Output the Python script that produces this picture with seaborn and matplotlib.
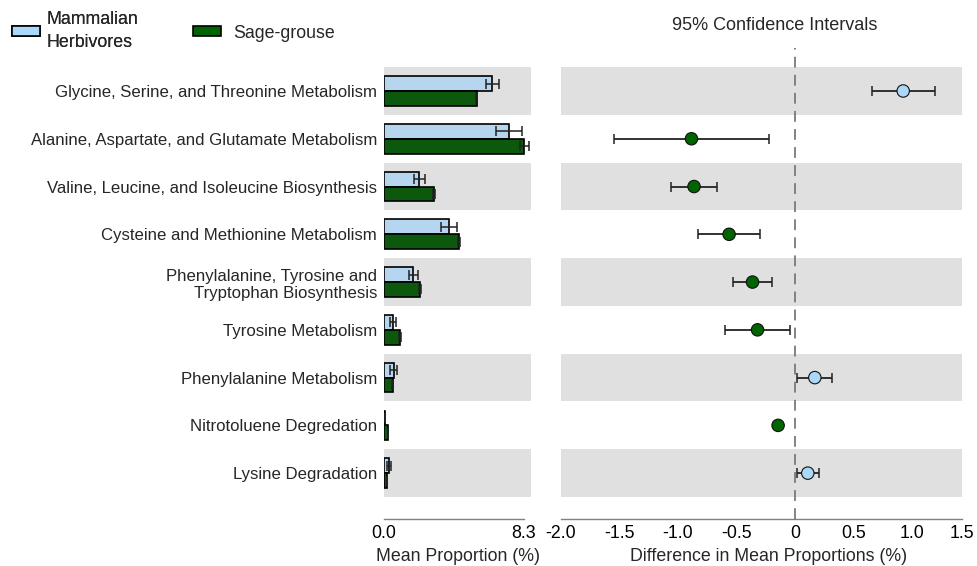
import numpy as np
import pandas as pd
import matplotlib
matplotlib.use("Agg")
import matplotlib.pyplot as plt
import seaborn as sns
from matplotlib.patches import Patch

# ---------------- data ----------------
pathways = [
    "Glycine, Serine, and Threonine Metabolism",
    "Alanine, Aspartate, and Glutamate Metabolism",
    "Valine, Leucine, and Isoleucine Biosynthesis",
    "Cysteine and Methionine Metabolism",
    "Phenylalanine, Tyrosine and\nTryptophan Biosynthesis",
    "Tyrosine Metabolism",
    "Phenylalanine Metabolism",
    "Nitrotoluene Degredation",
    "Lysine Degradation",
]
groups = ["Mammalian\nHerbivores", "Sage-grouse"]

herb_mean = [6.42, 7.43, 2.09, 3.83, 1.74, 0.52, 0.57, 0.04, 0.30]
herb_err = [0.38, 0.77, 0.34, 0.48, 0.27, 0.19, 0.22, 0.0, 0.13]
grouse_mean = [5.49, 8.32, 2.96, 4.43, 2.13, 0.93, 0.53, 0.24, 0.18]
grouse_err = [0.05, 0.28, 0.05, 0.05, 0.04, 0.06, 0.03, 0.02, 0.02]

diff = [0.927, -0.884, -0.862, -0.562, -0.362, -0.319, 0.171, -0.143, 0.111]
ci_low = [0.662, -1.547, -1.062, -0.824, -0.525, -0.597, 0.020, -0.143, 0.020]
ci_high = [1.199, -0.225, -0.665, -0.297, -0.194, -0.040, 0.317, -0.143, 0.208]

left_ticks = [0.0, 8.3]
left_ticklabels = ["0.0", "8.3"]
right_xmin, right_xmax = -2.0, 1.43
right_ticks = [-2.0, -1.5, -1.0, -0.5, 0.0, 0.5, 1.0, right_xmax]
right_ticklabels = ["-2.0", "-1.5", "-1.0", "-0.5", "0", "0.5", "1.0", "1.5"]

blue = "#ABD8F8"
green = "#006400"
band = "#E0E0E0"
spine_c = "#808080"

# ---------------- figure ----------------
sns.set_style("white")
plt.rcParams["font.family"] = ["Liberation Sans", "DejaVu Sans"]
plt.rcParams["font.size"] = 12

fig = plt.figure(figsize=(9.77, 5.66), dpi=100)
ax1 = fig.add_axes([384 / 977, 1 - 519 / 566, 147 / 977, 471 / 566])
ax2 = fig.add_axes([561 / 977, 1 - 519 / 566, 401 / 977, 471 / 566])

n = len(pathways)
rows = np.arange(n)

for ax in (ax1, ax2):
    for i in range(0, n, 2):
        ax.axhspan(i - 0.5, i + 0.5, color=band, lw=0, zorder=0)

# left: bar chart
df = pd.DataFrame({
    "pathway": pathways * 2,
    "group": [groups[0]] * n + [groups[1]] * n,
    "value": herb_mean + grouse_mean,
})
bw = 0.62
sns.barplot(data=df, y="pathway", x="value", hue="group", order=pathways,
            hue_order=groups, palette=[blue, green], width=bw, orient="h",
            edgecolor="black", linewidth=1.2, errorbar=None, legend=False,
            ax=ax1, zorder=2)
off = bw / 4
ax1.errorbar(herb_mean, rows - off, xerr=herb_err, fmt="none", ecolor="#222222",
             elinewidth=1.1, capsize=3.5, capthick=1.1, zorder=3)
ax1.errorbar(grouse_mean, rows + off, xerr=grouse_err, fmt="none", ecolor="#222222",
             elinewidth=1.1, capsize=3.5, capthick=1.1, zorder=3)

ax1.set_xlim(0, left_ticks[-1] * 147 / 140)
ax1.set_ylim(8.96, -0.9)
ax1.set_xticks(left_ticks)
ax1.set_xticklabels(left_ticklabels)
ax1.set_yticks(rows)
ax1.set_yticklabels(pathways, fontsize=12.1)
ax1.set_ylabel("")
ax1.set_xlabel("Mean Proportion (%)", fontsize=12.8, labelpad=4.5)

# right: CI plot
lo_err = np.array(diff) - np.array(ci_low)
hi_err = np.array(ci_high) - np.array(diff)
ax2.axvline(0, color="#7a7a7a", ls=(0, (6, 4)), lw=1.3, zorder=1)
ax2.errorbar(diff, rows, xerr=[lo_err, hi_err], fmt="none", ecolor="#222222",
             elinewidth=1.3, capsize=3.5, capthick=1.1, zorder=2)
dfc = pd.DataFrame({"diff": diff, "row": rows,
                    "higher": [groups[0] if d > 0 else groups[1] for d in diff]})
sns.scatterplot(data=dfc, x="diff", y="row", hue="higher", hue_order=groups,
                palette=[blue, green], s=80, edgecolor="#111111", linewidth=0.8,
                legend=False, ax=ax2, zorder=3)
ax2.set_xlim(right_xmin, right_xmax)
ax2.set_ylim(8.96, -0.9)
ax2.set_xticks(right_ticks)
ax2.set_xticklabels(right_ticklabels)
ax2.set_yticks([])
ax2.set_ylabel("")
ax2.set_xlabel("Difference in Mean Proportions (%)", fontsize=12.8, labelpad=4.5)
ax2.xaxis.label.set_x((769 - 561) / 401)

for ax in (ax1, ax2):
    for s in ("top", "right", "left"):
        ax.spines[s].set_visible(False)
    ax.spines["bottom"].set_color(spine_c)
    ax.spines["bottom"].set_linewidth(1)
    ax.tick_params(axis="x", direction="in", length=4, width=1, color=spine_c,
                   pad=4, labelsize=12.8, labelcolor="black")
    ax.tick_params(axis="y", length=0, pad=5)
    ax.set_facecolor("none")
ax1.spines["bottom"].set_bounds(left_ticks[0], left_ticks[-1])

fig.text(775 / 977, 1 - 25 / 566, "95% Confidence Intervals", ha="center",
         va="center", fontsize=13)

# legend
hp = dict(handlelength=1.56, handleheight=0.5, borderpad=0,
          borderaxespad=0, frameon=False, fontsize=12.8)
leg1 = fig.legend(handles=[Patch(facecolor=blue, edgecolor="black", lw=1.2)],
                  labels=[groups[0]], loc="center left", handletextpad=0.4,
                  bbox_to_anchor=(12 / 977, 1 - 31 / 566), **hp)
leg1.get_texts()[0].set_linespacing(1.4)
fig.legend(handles=[Patch(facecolor=green, edgecolor="black", lw=1.2)],
           labels=[groups[1]], loc="center left", handletextpad=0.68,
           bbox_to_anchor=(193 / 977, 1 - 33 / 566), **hp)
fig.add_artist(leg1)

fig.savefig("out.png", dpi=100)
